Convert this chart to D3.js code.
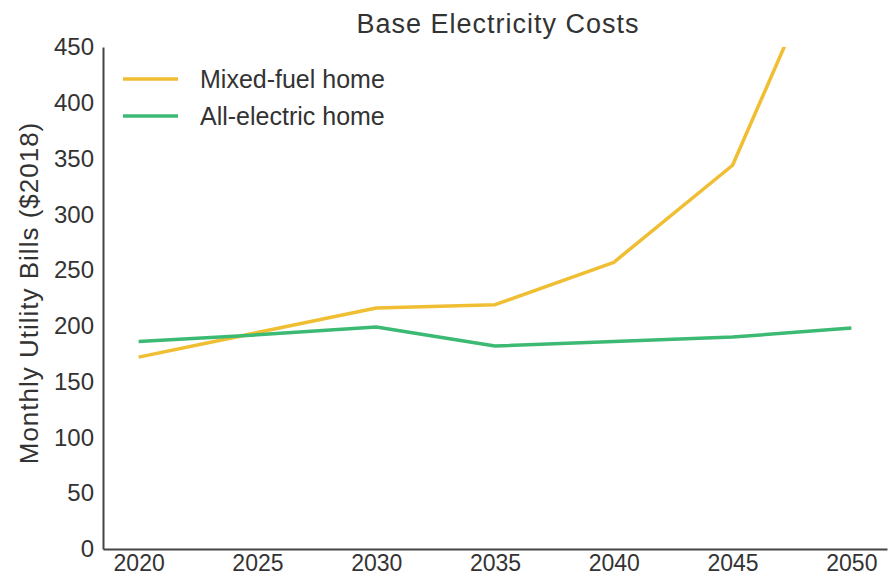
<!DOCTYPE html>
<html>
<head>
<meta charset="utf-8">
<script src="https://cdn.jsdelivr.net/npm/d3@7"></script>
<style>
  body { margin: 0; background: #fff; }
  svg { font-family: "Liberation Sans", Arial, sans-serif; }
</style>
</head>
<body>
<svg id="chart" width="892" height="580"></svg>
<script>
// data
const years = [2020, 2025, 2030, 2035, 2040, 2045, 2050];
const mixedFuel = [172, 194, 216, 219, 257, 344, 588];
const allElectric = [186, 192, 199, 182, 186, 190, 198];
const seriesNames = ["Mixed-fuel home", "All-electric home"];
const seriesColors = ["#F0BE32", "#3CBA74"];
const yTicks = [0, 50, 100, 150, 200, 250, 300, 350, 400, 450];

const width = 892, height = 580;
const margin = { top: 47, right: 4, bottom: 31, left: 103 };

const svg = d3.select("#chart");

const x = d3.scaleLinear()
  .domain([2018.5, 2051.5])
  .range([margin.left, width - margin.right - 1]);

const y = d3.scaleLinear()
  .domain([0, 450])
  .range([height - margin.bottom, margin.top]);

// clip so the runaway mixed-fuel line stops at the top of the axis
svg.append("clipPath").attr("id", "plotClip")
  .append("rect")
  .attr("x", margin.left).attr("y", margin.top)
  .attr("width", width - margin.left).attr("height", height - margin.bottom - margin.top);

// title
svg.append("text")
  .attr("x", 498).attr("y", 33)
  .attr("text-anchor", "middle")
  .attr("font-size", 27)
  .attr("letter-spacing", 1)
  .attr("fill", "#333")
  .text("Base Electricity Costs");

// y axis
const yAxis = svg.append("g")
  .attr("transform", `translate(${margin.left},0)`)
  .call(d3.axisLeft(y).tickValues(yTicks).tickSize(0).tickPadding(9));
yAxis.select(".domain").attr("stroke", "#444").attr("stroke-width", 2);
yAxis.selectAll("text").attr("font-size", 24).attr("fill", "#333")
  .attr("font-family", "Liberation Sans, Arial, sans-serif");

// x axis
const xAxis = svg.append("g")
  .attr("transform", `translate(0,${height - margin.bottom})`)
  .call(d3.axisBottom(x).tickValues(years).tickFormat(d3.format("d")).tickSize(0).tickPadding(6));
xAxis.select(".domain").attr("stroke", "#444").attr("stroke-width", 2);
xAxis.selectAll("text").attr("font-size", 23).attr("fill", "#333")
  .attr("font-family", "Liberation Sans, Arial, sans-serif");

// y label
svg.append("text")
  .attr("transform", `translate(38,${293}) rotate(-90)`)
  .attr("text-anchor", "middle")
  .attr("font-size", 26)
  .attr("letter-spacing", 1)
  .attr("fill", "#333")
  .text("Monthly Utility Bills ($2018)");

// lines
const line = d3.line()
  .x((d, i) => x(years[i]))
  .y(d => y(d));

const allSeries = [mixedFuel, allElectric];
svg.append("g")
  .attr("clip-path", "url(#plotClip)")
  .selectAll("path")
  .data(allSeries)
  .join("path")
  .attr("d", line)
  .attr("fill", "none")
  .attr("stroke", (d, i) => seriesColors[i])
  .attr("stroke-width", 3.5)
  .attr("stroke-linejoin", "round");

// legend
const legend = svg.append("g").attr("transform", "translate(123,79)");
seriesNames.forEach((name, i) => {
  const g = legend.append("g").attr("transform", `translate(0,${i * 37})`);
  g.append("line")
    .attr("x1", 0).attr("x2", 55)
    .attr("stroke", seriesColors[i]).attr("stroke-width", 3.5);
  g.append("text")
    .attr("x", 77).attr("y", 9)
    .attr("font-size", 25)
    .attr("fill", "#333")
    .text(name);
});
</script>
</body>
</html>
